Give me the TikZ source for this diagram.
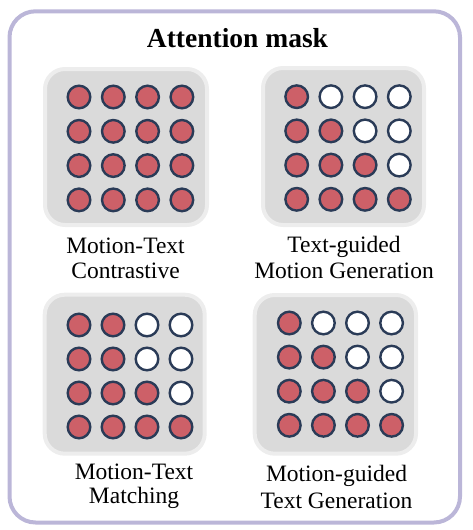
\documentclass[tikz,border=0pt]{standalone}
\usepackage{fontspec}
\setmainfont{Liberation Serif}
\definecolor{framecol}{HTML}{BBB6D8}
\definecolor{panelgray}{HTML}{DADADA}
\definecolor{panelrim}{HTML}{EDEDED}
\definecolor{dotred}{HTML}{CD6068}
\definecolor{dotedge}{HTML}{2A3B57}
\tikzset{
  frame/.style={draw=framecol, line width=4pt, rounded corners=26pt},
  panel/.style={fill=panelgray, draw=panelrim, line width=4pt, rounded corners=20pt},
  dot/.style={circle, draw=dotedge, line width=2.4pt, minimum size=22.6pt, inner sep=0pt},
  reddot/.style={dot, fill=dotred},
  whitedot/.style={dot, fill=white},
  lbl/.style={anchor=base, inner sep=0pt, font=\fontsize{23.5}{26}\selectfont},
  ttl/.style={anchor=base, inner sep=0pt, font=\fontsize{27.5}{30}\selectfont\bfseries},
}
% #1 name, #2 x0, #3 y0, #4 spacing, #5 mode (0 all red, 1 causal, 2 matching)
\newcommand{\dotgrid}[5]{%
  \foreach \i in {1,...,4}{%
    \foreach \j in {1,...,4}{%
      \pgfmathtruncatemacro{\lim}{#5==0 ? 4 : (#5==1 ? \i : max(\i,2))}%
      \ifnum\j>\lim
        \node[whitedot] (#1-\i-\j) at ({#2+(\j-1)*#4},{#3+(\i-1)*#4}) {};
      \else
        \node[reddot] (#1-\i-\j) at ({#2+(\j-1)*#4},{#3+(\i-1)*#4}) {};
      \fi
    }%
  }%
}
\begin{document}
\begin{tikzpicture}[x=1pt,y=-1pt]
\useasboundingbox (0,0) rectangle (472,530);
\draw[frame] (9.5,11.3) rectangle (460,522.5);
\node[ttl] (title) at (237.5,47) {Attention mask};

% panels
\draw[panel] (45,69) rectangle (207,225);
\draw[panel] (263,68) rectangle (424,225);
\draw[panel] (44.7,294.7) rectangle (204.7,453.7);
\draw[panel] (254.7,295) rectangle (416,453.7);

\dotgrid{tl}{79}{97}{34.3}{0}
\dotgrid{tr}{296.7}{96.7}{34.2}{1}
\dotgrid{bl}{79}{325}{34}{2}
\dotgrid{br}{289.3}{323}{34.1}{1}

% labels
\node[lbl] (tl-a) at (125.5,253) {Motion-Text};
\node[lbl] (tl-b) at (125.5,278) {Contrastive};
\node[lbl] (tr-a) at (344,252) {Text-guided};
\node[lbl] (tr-b) at (344,278) {Motion Generation};
\node[lbl] (bl-a) at (134,479.3) {Motion-Text};
\node[lbl] (bl-b) at (134,503.3) {Matching};
\node[lbl] (br-a) at (336.5,481.7) {Motion-guided};
\node[lbl] (br-b) at (336.5,508) {Text Generation};
\end{tikzpicture}
\end{document}
